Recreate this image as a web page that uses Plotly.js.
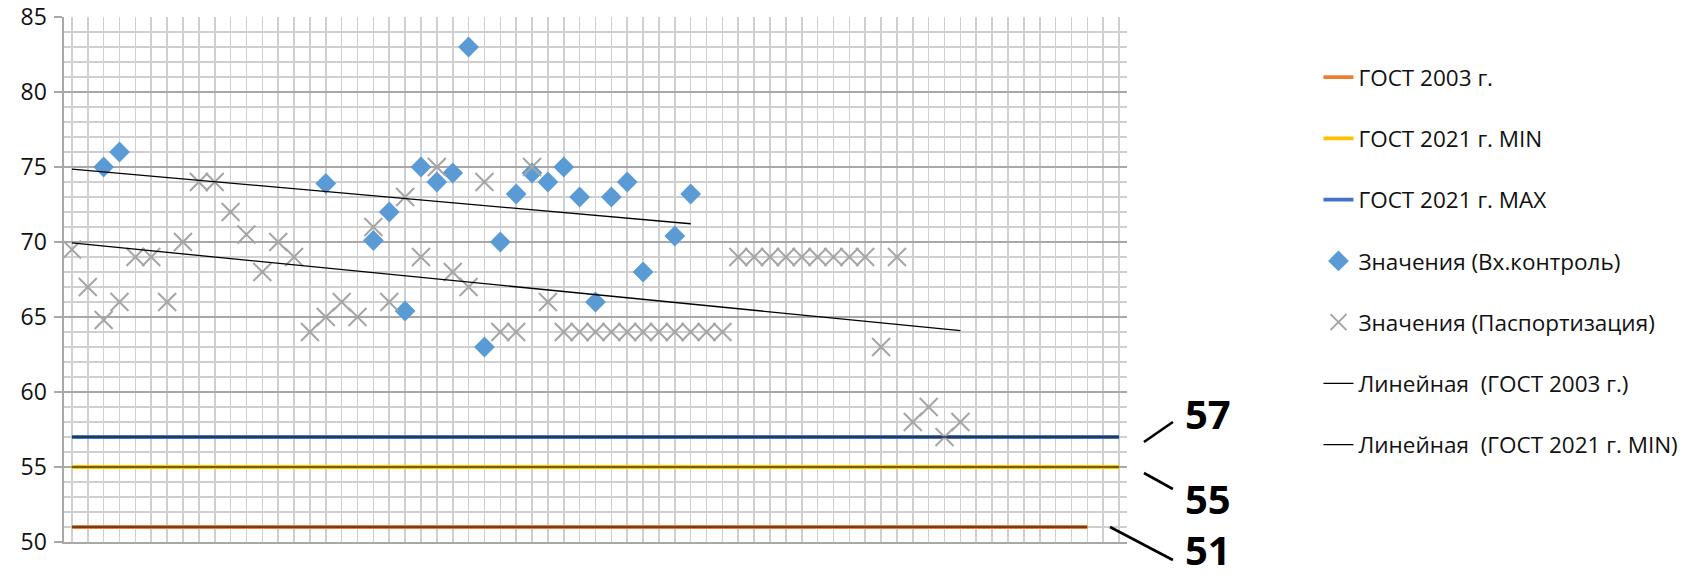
<!DOCTYPE html>
<html>
<head>
<meta charset="utf-8">
<script src="https://cdn.plot.ly/plotly-3.0.1.min.js"></script>
<style>html,body{margin:0;padding:0;background:#fff;}#chart{width:1696px;height:579px;}</style>
</head>
<body>
<div id="chart"></div>
<script>
// ---- data ----
const categories = [1,2,3,4,5,6,7,8,9,10,11,12,13,14,15,16,17,18,19,20,21,22,23,24,25,26,27,28,29,30,31,32,33,34,35,36,37,38,39,40,41,42,43,44,45,46,47,48,49,50,51,52,53,54,55,56,57,58,59,60,61,62,63,64,65,66,67];

const gost2003 = [51,51,51,51,51,51,51,51,51,51, 51,51,51,51,51,51,51,51,51,51, 51,51,51,51,51,51,51,51,51,51, 51,51,51,51,51,51,51,51,51,51, 51,51,51,51,51,51,51,51,51,51, 51,51,51,51,51,51,51,51,51,51, 51,51,51,51,51,null,null];
const gost2021Min = [55,55,55,55,55,55,55,55,55,55, 55,55,55,55,55,55,55,55,55,55, 55,55,55,55,55,55,55,55,55,55, 55,55,55,55,55,55,55,55,55,55, 55,55,55,55,55,55,55,55,55,55, 55,55,55,55,55,55,55,55,55,55, 55,55,55,55,55,55,55];
const gost2021Max = [57,57,57,57,57,57,57,57,57,57, 57,57,57,57,57,57,57,57,57,57, 57,57,57,57,57,57,57,57,57,57, 57,57,57,57,57,57,57,57,57,57, 57,57,57,57,57,57,57,57,57,57, 57,57,57,57,57,57,57,57,57,57, 57,57,57,57,57,57,57];

const valuesInput = [null,null,75,76,null,null,null,null,null,null, null,null,null,null,null,null,73.9,null,null,70.1, 72,65.4,75,74,74.6,83,63,70,73.2,74.6, 74,75,73,66,73,74,68,null,70.4,73.2, null,null,null,null,null,null,null,null,null,null, null,null,null,null,null,null,null,null,null,null, null,null,null,null,null,null,null];
const valuesPassport = [69.5,67,64.8,66,69,69,66,70,74,74, 72,70.5,68,70,69,64,65,66,65,71, 66,73,69,75,68,67,74,64,64,75, 66,64,64,64,64,64,64,64,64,64, 64,64,69,69,69,69,69,69,69,69, 69,63,69,58,59,57,58,null,null,null, null,null,null,null,null,null,null];

const yTickLabels = ['50','55','60','65','70','75','80','85'];
const yTickValues = [50,55,60,65,70,75,80,85];
const calloutLabels = ['57','55','51'];

// ---- linear trendline (Excel style: x = category number) ----
function linearTrend(vals){
  const xs=[], ys=[];
  vals.forEach((v,i)=>{ if(v!==null && v!==undefined){ xs.push(categories[i]); ys.push(v);} });
  const n=xs.length;
  const mx=xs.reduce((a,b)=>a+b,0)/n, my=ys.reduce((a,b)=>a+b,0)/n;
  let sxy=0, sxx=0;
  for(let i=0;i<n;i++){ sxy+=(xs[i]-mx)*(ys[i]-my); sxx+=(xs[i]-mx)*(xs[i]-mx); }
  const b = sxx===0?0:sxy/sxx, a = my-b*mx;
  const x0=categories[0], x1=xs[n-1];
  return {x:[x0,x1], y:[a+b*x0, a+b*x1]};
}

const FONT = '"Open Sans", "DejaVu Sans", sans-serif';
const W=1696, H=579, L=64, R=566, T=17, B=37;
const PW=W-L-R, PH=H-T-B;
const px = x => (x-L)/PW;
const py = y => 1-(y-T)/PH;

const tr2003 = linearTrend(gost2003);
const trMin = linearTrend(gost2021Min);
const trMax = linearTrend(gost2021Max);
const trInput = linearTrend(valuesInput);
const trPassport = linearTrend(valuesPassport);

let g = 0;
const grp = () => 'g' + (g++);

const traces = [
  {x:categories, y:gost2003, name:'ГОСТ 2003 г.', mode:'lines', line:{color:'#ED7D31', width:3.8}, legendgroup:grp()},
  {x:categories, y:gost2021Min, name:'ГОСТ 2021 г. MIN', mode:'lines', line:{color:'#FFC000', width:3.8}, legendgroup:grp()},
  {x:categories, y:gost2021Max, name:'ГОСТ 2021 г. MAX', mode:'lines', line:{color:'#4472C4', width:3.8}, legendgroup:grp()},
  {x:categories, y:valuesInput, name:'Значения (Вх.контроль)', mode:'markers', marker:{symbol:'diamond', size:16, color:'#5B9BD5'}, legendgroup:grp()},
  {x:categories, y:valuesPassport, name:'Значения (Паспортизация)', mode:'markers', marker:{symbol:'x-thin-open', size:18, color:'#A5A5A5', line:{color:'#A5A5A5', width:2}}, legendgroup:grp()},
  {x:tr2003.x, y:tr2003.y, name:'Линейная  (ГОСТ 2003 г.)', mode:'lines', line:{color:'#000000', width:1.2}, legendgroup:grp()},
  {x:trMin.x, y:trMin.y, name:'Линейная  (ГОСТ 2021 г. MIN)', mode:'lines', line:{color:'#000000', width:1.2}, legendgroup:grp()},
  {x:trMax.x, y:trMax.y, name:'Линейная (ГОСТ 2021 г. MAX)', mode:'lines', line:{color:'#000000', width:1.2}, showlegend:false},
  {x:trInput.x, y:trInput.y, name:'Линейная (Вх.контроль)', mode:'lines', line:{color:'#000000', width:1.3}, showlegend:false},
  {x:trPassport.x, y:trPassport.y, name:'Линейная (Паспортизация)', mode:'lines', line:{color:'#000000', width:1.3}, showlegend:false}
];

const leaders = [
  [1147,442,1176,422],
  [1147,473,1176,489],
  [1113,527,1176,560]
];
const shapes = leaders.map(s=>({type:'line', xref:'paper', yref:'paper', x0:px(s[0]), y0:py(s[1]), x1:px(s[2]), y1:py(s[3]), line:{color:'#000', width:2.6}}));

const calloutY = [413, 498, 549];
const annotations = calloutLabels.map((t,i)=>({
  xref:'paper', yref:'paper', x:px(1211), y:py(calloutY[i]), text:'<b>'+t+'</b>', showarrow:false,
  xanchor:'center', yanchor:'middle', font:{family:FONT, size:40, color:'#000'}
}));

const layout = {
  width:W, height:H,
  margin:{l:L, r:R, t:T, b:B, pad:0},
  paper_bgcolor:'#fff', plot_bgcolor:'#fff',
  showlegend:true,
  font:{family:FONT, size:22, color:'#111'},
  xaxis:{
    range:[0.5, 67.5], tickmode:'array', tickvals:categories, showticklabels:false, ticks:'',
    showgrid:true, gridcolor:'#CFCFCF', gridwidth:1.6, zeroline:false,
    showline:true, linecolor:'#A8A8A8', linewidth:1.6, fixedrange:true
  },
  yaxis:{
    range:[50,85], tickmode:'array', tickvals:yTickValues, ticktext:yTickLabels,
    showgrid:true, gridcolor:'#A8A8A8', gridwidth:1.6, zeroline:false,
    minor:{dtick:1, showgrid:true, gridcolor:'#CFCFCF', gridwidth:1.6, ticks:''},
    showline:true, linecolor:'#A8A8A8', linewidth:1.6,
    ticks:'outside', ticklen:8, tickwidth:1.6, tickcolor:'#A8A8A8',
    ticklabelstandoff:3, ticklabeloverflow:'allow',
    tickfont:{family:FONT, size:23, color:'#111'}, fixedrange:true
  },
  legend:{
    x:px(1322), y:py(56), xanchor:'left', yanchor:'top',
    traceorder:'grouped', tracegroupgap:29, itemwidth:30,
    font:{family:FONT, size:22.5, color:'#111'}, bgcolor:'rgba(0,0,0,0)'
  },
  shapes:shapes,
  annotations:annotations
};

Plotly.newPlot('chart', traces, layout, {displayModeBar:false, staticPlot:true});
</script>
</body>
</html>
